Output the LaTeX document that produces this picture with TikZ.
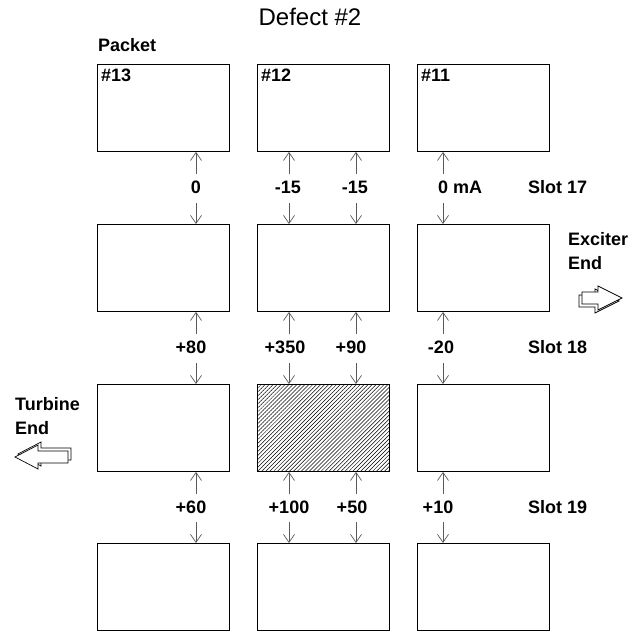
\documentclass[tikz,border=0pt]{standalone}
\usepackage{fontspec}
\setmainfont{Liberation Sans}
\usetikzlibrary{arrows.meta,patterns.meta}

\tikzset{
  packetbox/.style={draw, line width=0.9pt, minimum width=132pt, minimum height=87pt,
                    inner sep=0pt, anchor=north west},
  lbl/.style={font=\bfseries\fontsize{18}{20}\selectfont, inner sep=1pt},
  probe/.style={draw=black!65, line width=0.7pt, -{Straight Barb[length=8pt,width=11pt]}},
  outarrow/.style={draw, line width=0.7pt, fill=white, line join=miter}
}

\begin{document}
\begin{tikzpicture}[x=1pt,y=-1pt]
\useasboundingbox (0,0) rectangle (632,634);

% -----------------------------
% Packets (columns) x slots (rows)
% -----------------------------
\foreach \c/\x in {1/97,2/257,3/417}
  \foreach \r/\y in {1/64,2/224,3/384,4/543}
    \node[packetbox] (b\c\r) at (\x,\y) {};

% the defect
\path[pattern={Lines[angle=45,distance=2.8pt,line width=0.5pt]}]
  (b23.south west) rectangle (b23.north east);
\draw[line width=0.9pt] (b23.south west) rectangle (b23.north east);

% -----------------------------
% Probe arrows between slots
% -----------------------------
\foreach \c/\x in {1/196,2/289,2/356,3/443}
  \foreach \r/\n in {1/2,2/3,3/4} {
    \draw[probe] (\x,0 |- b\c\r.south) ++(0,22) -- (\x,0 |- b\c\r.south);
    \draw[probe] (\x,0 |- b\c\n.north) ++(0,-21) -- (\x,0 |- b\c\n.north);
  }

% titles
\node[font=\fontsize{24}{28}\selectfont] (title) at (310,17) {Defect \#2};
\node[lbl, anchor=west] (packet) at (97,45) {Packet};
\node[lbl, anchor=north west] (n13) at ([shift={(3,4)}]b11.north west) {\#13};
\node[lbl, anchor=north west] (n12) at ([shift={(3,4)}]b21.north west) {\#12};
\node[lbl, anchor=north west] (n11) at ([shift={(3,4)}]b31.north west) {\#11};

% currents, slot 17
\node[lbl] (v1a) at (196,187.5) {0};
\node[lbl] (v1b) at (288,187.5) {-15};
\node[lbl] (v1c) at (355,187.5) {-15};
\node[lbl, anchor=west] (v1d) at (437,187.5) {0 mA};
\node[lbl, anchor=west] (s17) at (527,187.5) {Slot 17};

% currents, slot 18
\node[lbl] (v2a) at (191,347.5) {+80};
\node[lbl] (v2b) at (285,347.5) {+350};
\node[lbl] (v2c) at (351,347.5) {+90};
\node[lbl] (v2d) at (441,347.5) {-20};
\node[lbl, anchor=west] (s18) at (527,347.5) {Slot 18};

% currents, slot 19
\node[lbl] (v3a) at (191,507) {+60};
\node[lbl] (v3b) at (289,507) {+100};
\node[lbl] (v3c) at (352,507) {+50};
\node[lbl] (v3d) at (438,507) {+10};
\node[lbl, anchor=west] (s19) at (527,507) {Slot 19};

% -----------------------------
% Machine ends
% -----------------------------
\node[lbl, anchor=west] (exc) at (567,239) {Exciter};
\node[lbl, anchor=west] (exce) at (567,263) {End};
\node[lbl, anchor=west] (tur) at (14,404) {Turbine};
\node[lbl, anchor=west] (ture) at (14,428) {End};

% hollow 3D arrows
\foreach \d in {3,0}
  \draw[outarrow, shift={(-\d,\d)}] (622,298) -- (598,286) -- (598,292) -- (582,292)
    -- (582,304) -- (598,304) -- (598,310) -- cycle;
\foreach \d in {3,0}
  \draw[outarrow, shift={(\d,-\d)}] (15,457) -- (38,445) -- (38,451) -- (68,451)
    -- (68,463) -- (38,463) -- (38,469) -- cycle;

\end{tikzpicture}
\end{document}
